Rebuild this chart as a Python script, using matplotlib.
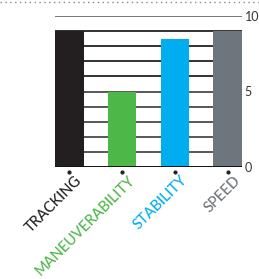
import numpy as np
import matplotlib
matplotlib.use("Agg")
import matplotlib.pyplot as plt
from matplotlib.lines import Line2D

# data
categories = ["TRACKING", "MANEUVERABILITY", "STABILITY", "SPEED"]
values = [9, 5, 8.5, 9]
colors = ["#231f20", "#4db848", "#00aeef", "#6d767c"]
ytick_vals = [0, 5, 10]

plt.rcParams['font.family'] = ['Lato', 'DejaVu Sans']

W, H = 259, 279
fig = plt.figure(figsize=(W / 100, H / 100), dpi=100)

# axes placed in pixel coords
left, right, top, bottom = 55, 242, 16, 167
ax = fig.add_axes([left / W, 1 - bottom / H, (right - left) / W, (bottom - top) / H])

x = np.arange(len(categories))
ax.set_xlim(-0.27, len(categories) - 1 + 0.27)
ax.set_ylim(0, 10)

# gridlines
for v in range(1, 10):
    c = "#222222" if v >= 6 else "#4a4a4a"
    ax.axhline(v, color=c, lw=1.3, zorder=1)
ax.axhline(10, color="#777777", lw=1.4, zorder=1)

ax.bar(x, values, width=0.54, color=colors, zorder=2)
ax.axhline(0, color="#111111", lw=1.4, zorder=3)

for s in ax.spines.values():
    s.set_visible(False)
ax.set_xticks([])
ax.yaxis.tick_right()
ax.set_yticks(ytick_vals)
ax.tick_params(axis='y', length=0, pad=2, labelsize=9, labelcolor="#333333")

# small dots + rotated labels
ax.plot(x, [-0.33] * len(x), 'o', color="#222222", ms=2, clip_on=False)
for xi, lab, c in zip(x, categories, colors):
    ax.text(xi + 0.2, -0.75, lab, rotation=45, rotation_mode='anchor',
            ha='right', va='center', color=c, fontsize=10.5,
            fontweight='medium', clip_on=False)

# dotted line at top
fig.add_artist(Line2D([0, 1], [1 - 1.5 / H, 1 - 1.5 / H], color="#888888",
                      lw=1, ls=(0, (1, 2.5))))

fig.savefig("out.png", dpi=100)
